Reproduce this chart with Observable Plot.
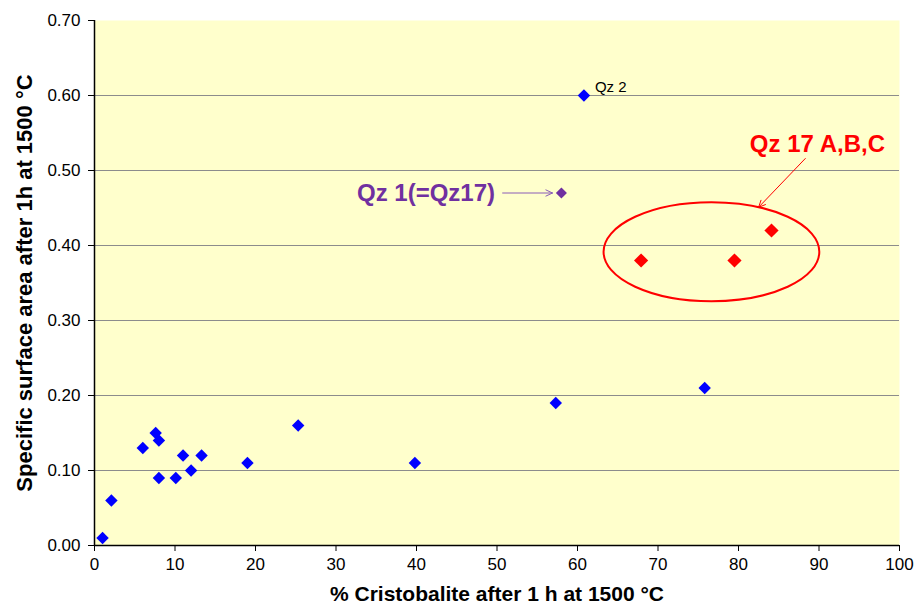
<!DOCTYPE html>
<html>
<head>
<meta charset="utf-8">
<script src="https://cdn.jsdelivr.net/npm/d3@7"></script>
<script src="https://cdn.jsdelivr.net/npm/@observablehq/plot@0.6"></script>
<style>
  html, body { margin: 0; padding: 0; background: #fff; }
  #chart svg { display: block; }
</style>
</head>
<body>
<div id="chart"></div>
<script>
// Blue samples
const blueX = [1.0, 2.1, 6.0, 7.6, 8.0, 8.0, 10.1, 11.0, 12.0, 13.3, 19.0, 25.3, 39.8, 57.3, 60.8, 75.8];
const blueY = [0.01, 0.06, 0.13, 0.15, 0.14, 0.09, 0.09, 0.12, 0.10, 0.12, 0.11, 0.16, 0.11, 0.19, 0.60, 0.21];
// Qz 1 (=Qz17)
const purpleX = [58.0];
const purpleY = [0.47];
// Qz 17 A,B,C
const redX = [67.9, 79.5, 84.1];
const redY = [0.38, 0.38, 0.42];

const xTicks = [0, 10, 20, 30, 40, 50, 60, 70, 80, 90, 100];
const yTicks = [0, 0.1, 0.2, 0.3, 0.4, 0.5, 0.6, 0.7];

const xTitle = "% Cristobalite after 1 h at 1500 °C";
const yTitle = "Specific surface area after 1h at 1500 °C";

const blue = blueX.map((x, i) => ({x, y: blueY[i]}));
const purple = purpleX.map((x, i) => ({x, y: purpleY[i]}));
const red = redX.map((x, i) => ({x, y: redY[i]}));

// annotation ellipse (data coords)
const ellipse = {cx: 76.7, cy: 0.391, rx: 13.4, ry: 0.066};

const font = "'Liberation Sans', Arial, sans-serif";

const ellipseMark = (index, scales) => {
  const sx = scales.x, sy = scales.y;
  const cx = sx(ellipse.cx), cy = sy(ellipse.cy);
  const rx = Math.abs(sx(ellipse.cx + ellipse.rx) - cx);
  const ry = Math.abs(sy(ellipse.cy + ellipse.ry) - cy);
  const e = document.createElementNS("http://www.w3.org/2000/svg", "ellipse");
  e.setAttribute("cx", cx); e.setAttribute("cy", cy);
  e.setAttribute("rx", rx); e.setAttribute("ry", ry);
  e.setAttribute("fill", "none"); e.setAttribute("stroke", "#FF0000");
  e.setAttribute("stroke-width", 2);
  return e;
};

const chart = Plot.plot({
  width: 915,
  height: 607,
  marginLeft: 94,
  marginRight: 16,
  marginTop: 20,
  marginBottom: 62,
  style: {fontFamily: font, fontSize: "17px", background: "#fff", color: "#000"},
  x: {domain: [0, 100], ticks: xTicks},
  y: {domain: [0, 0.7], ticks: yTicks},
  marks: [
    Plot.frame({fill: "#FFFFCC", stroke: null}),
    Plot.ruleY(yTicks.filter(d => d > 0 && d < 0.7), {stroke: "#8c8c8c", strokeWidth: 1.2}),
    Plot.axisX({ticks: xTicks, tickSize: 6, tickPadding: 6, fontSize: 17, label: null, stroke: "#000"}),
    Plot.axisY({ticks: yTicks, tickSize: 6, tickPadding: 8, fontSize: 17, label: null, tickFormat: d => d.toFixed(2), stroke: "#000"}),
    Plot.ruleX([0], {stroke: "#000", strokeWidth: 1.5}),
    Plot.ruleY([0], {stroke: "#000", strokeWidth: 1.5}),
    Plot.dot(blue, {x: "x", y: "y", symbol: "diamond2", r: 5.6, fill: "#0000FF", stroke: null}),
    Plot.dot(purple, {x: "x", y: "y", symbol: "diamond2", r: 5.0, fill: "#7030A0", stroke: null}),
    Plot.dot(red, {x: "x", y: "y", symbol: "diamond2", r: 6.4, fill: "#FF0000", stroke: null}),
    ellipseMark,
    Plot.arrow([{x1: 50.7, y1: 0.47, x2: 56.9, y2: 0.47}], {x1: "x1", y1: "y1", x2: "x2", y2: "y2", stroke: "#8a5cb8", strokeWidth: 1, headLength: 11, headAngle: 50}),
    Plot.arrow([{x1: 88.3, y1: 0.516, x2: 82.5, y2: 0.451}], {x1: "x1", y1: "y1", x2: "x2", y2: "y2", stroke: "#FF0000", strokeWidth: 1, headLength: 11, headAngle: 50}),
    Plot.text([{x: 60.8, y: 0.60, t: "Qz 2"}], {x: "x", y: "y", text: "t", textAnchor: "start", dx: 11, dy: -8, fontSize: 15, fill: "#000"}),
    Plot.text([{x: 50.5, y: 0.47, t: "Qz 1(=Qz17)"}], {x: "x", y: "y", text: "t", textAnchor: "end", dx: -6, fontSize: 24, fontWeight: "bold", fill: "#7030A0"}),
    Plot.text([{x: 89.8, y: 0.535, t: "Qz 17 A,B,C"}], {x: "x", y: "y", text: "t", textAnchor: "middle", fontSize: 24, fontWeight: "bold", fill: "#FF0000"}),
    Plot.text([xTitle], {frameAnchor: "bottom", lineAnchor: "middle", textAnchor: "middle", dy: 49, fontSize: 21, fontWeight: "bold", fill: "#000"}),
    Plot.text([yTitle], {frameAnchor: "left", lineAnchor: "middle", textAnchor: "middle", dx: -70, rotate: -90, fontSize: 22, fontWeight: "bold", fill: "#000"})
  ]
});
document.getElementById("chart").appendChild(chart);
</script>
</body>
</html>
